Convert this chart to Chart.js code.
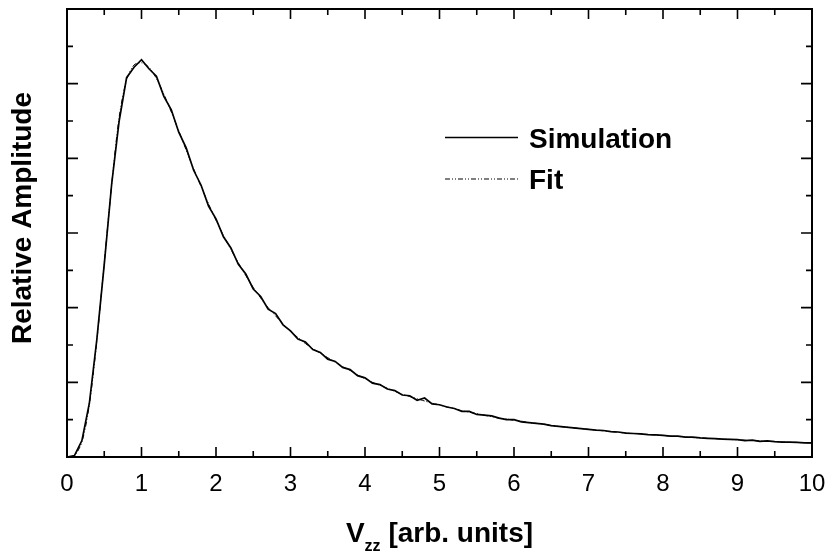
<!DOCTYPE html>
<html>
<head>
<meta charset="utf-8">
<title>Relative Amplitude vs Vzz</title>
<script src="https://cdn.jsdelivr.net/npm/chart.js@4.4.0/dist/chart.umd.min.js"></script>
<style>
  html, body { margin:0; padding:0; background:#fff; }
  #wrap { width:832px; height:556px; }
</style>
</head>
<body>
<div id="wrap"><canvas id="chart" width="832" height="556"></canvas></div>
<script>
// V_zz sample grid [arb. units]
const vzz = [
  0.0, 0.1, 0.2, 0.3, 0.4, 0.5, 0.6, 0.7, 0.8, 0.9,
  1.0, 1.1, 1.2, 1.3, 1.4, 1.5, 1.6, 1.7, 1.8, 1.9,
  2.0, 2.1, 2.2, 2.3, 2.4, 2.5, 2.6, 2.7, 2.8, 2.9,
  3.0, 3.1, 3.2, 3.3, 3.4, 3.5, 3.6, 3.7, 3.8, 3.9,
  4.0, 4.1, 4.2, 4.3, 4.4, 4.5, 4.6, 4.7, 4.8, 4.9,
  5.0, 5.1, 5.2, 5.3, 5.4, 5.5, 5.6, 5.7, 5.8, 5.9,
  6.0, 6.1, 6.2, 6.3, 6.4, 6.5, 6.6, 6.7, 6.8, 6.9,
  7.0, 7.1, 7.2, 7.3, 7.4, 7.5, 7.6, 7.7, 7.8, 7.9,
  8.0, 8.1, 8.2, 8.3, 8.4, 8.5, 8.6, 8.7, 8.8, 8.9,
  9.0, 9.1, 9.2, 9.3, 9.4, 9.5, 9.6, 9.7, 9.8, 9.9,
  10.0
];

// simulated distribution (noisy)
const simulation = [
  0, 0.02, 0.22, 0.72, 1.57, 2.58, 3.66, 4.50, 5.08, 5.22,
  5.32, 5.20, 5.10, 4.83, 4.65, 4.35, 4.14, 3.84, 3.64, 3.36,
  3.19, 2.95, 2.80, 2.58, 2.45, 2.25, 2.15, 1.98, 1.92, 1.77,
  1.69, 1.58, 1.54, 1.44, 1.40, 1.31, 1.28, 1.20, 1.17, 1.09,
  1.06, 0.99, 0.97, 0.91, 0.89, 0.83, 0.82, 0.76, 0.79, 0.71,
  0.70, 0.67, 0.65, 0.61, 0.61, 0.57, 0.56, 0.55, 0.52, 0.50,
  0.50, 0.47, 0.46, 0.45, 0.44, 0.42, 0.41, 0.40, 0.39, 0.38,
  0.37, 0.36, 0.355, 0.34, 0.335, 0.32, 0.315, 0.31, 0.30, 0.295,
  0.29, 0.28, 0.28, 0.265, 0.265, 0.255, 0.25, 0.245, 0.24, 0.235,
  0.232, 0.22, 0.225, 0.21, 0.215, 0.205, 0.20, 0.198, 0.195, 0.19,
  0.19
];

// fitted distribution
const fit = [
  0, 0.02, 0.20, 0.70, 1.55, 2.60, 3.65, 4.55, 5.05, 5.25,
  5.28, 5.22, 5.07, 4.86, 4.62, 4.37, 4.11, 3.86, 3.62, 3.39,
  3.17, 2.97, 2.78, 2.60, 2.43, 2.27, 2.13, 2.00, 1.89, 1.78,
  1.68, 1.60, 1.52, 1.45, 1.39, 1.33, 1.27, 1.21, 1.16, 1.10,
  1.05, 1.00, 0.96, 0.92, 0.88, 0.84, 0.81, 0.78, 0.75, 0.72,
  0.70, 0.67, 0.65, 0.62, 0.60, 0.58, 0.56, 0.54, 0.52, 0.51,
  0.49, 0.48, 0.46, 0.45, 0.44, 0.42, 0.41, 0.40, 0.39, 0.38,
  0.37, 0.36, 0.35, 0.34, 0.33, 0.32, 0.315, 0.31, 0.30, 0.295,
  0.29, 0.28, 0.275, 0.27, 0.26, 0.255, 0.25, 0.245, 0.24, 0.235,
  0.23, 0.225, 0.22, 0.215, 0.21, 0.205, 0.20, 0.198, 0.195, 0.19,
  0.188
];

const xMajor = [0, 1, 2, 3, 4, 5, 6, 7, 8, 9, 10];
const xMinor = [0.5, 1.5, 2.5, 3.5, 4.5, 5.5, 6.5, 7.5, 8.5, 9.5];
const yMajor = [0, 1, 2, 3, 4, 5, 6];
const yMinor = [0.5, 1.5, 2.5, 3.5, 4.5, 5.5];
const seriesNames = ['Simulation', 'Fit'];

const FONT = '"Liberation Sans", Arial, Helvetica, sans-serif';
const fitDash = [5, 2, 1, 2, 1, 2];

// frame, inward ticks on all four sides, tick labels, axis titles, legend
const framePlugin = {
  id: 'frame',
  afterDraw(chart) {
    const { ctx, chartArea: a, scales: { x, y } } = chart;
    ctx.save();
    ctx.strokeStyle = '#000';
    ctx.fillStyle = '#000';

    ctx.lineWidth = 1.6;
    const xTick = (v, len) => {
      const px = x.getPixelForValue(v);
      ctx.beginPath();
      ctx.moveTo(px, a.bottom); ctx.lineTo(px, a.bottom - len);
      ctx.moveTo(px, a.top); ctx.lineTo(px, a.top + len);
      ctx.stroke();
    };
    const yTick = (v, len) => {
      const py = y.getPixelForValue(v);
      ctx.beginPath();
      ctx.moveTo(a.left, py); ctx.lineTo(a.left + len, py);
      ctx.moveTo(a.right, py); ctx.lineTo(a.right - len, py);
      ctx.stroke();
    };
    xMajor.forEach(v => xTick(v, 10));
    xMinor.forEach(v => xTick(v, 6));
    yMajor.forEach(v => yTick(v, 11));
    yMinor.forEach(v => yTick(v, 6));

    ctx.lineWidth = 2;
    ctx.strokeRect(a.left, a.top, a.right - a.left, a.bottom - a.top);

    // x tick labels
    ctx.font = '24px ' + FONT;
    ctx.textAlign = 'center';
    ctx.textBaseline = 'alphabetic';
    xMajor.forEach(v => ctx.fillText(String(v), x.getPixelForValue(v), 491));

    // x title: V_zz [arb. units]
    const big = 'bold 28px ' + FONT, small = 'bold 16px ' + FONT;
    ctx.font = big;
    const wV = ctx.measureText('V').width;
    const wRest = ctx.measureText(' [arb. units]').width;
    ctx.font = small;
    const wSub = ctx.measureText('zz').width;
    let tx = (a.left + a.right) / 2 - (wV + wSub + wRest) / 2;
    ctx.textAlign = 'left';
    ctx.font = big;
    ctx.fillText('V', tx, 542);
    tx += wV;
    ctx.font = small;
    ctx.fillText('zz', tx, 551);
    tx += wSub;
    ctx.font = big;
    ctx.fillText(' [arb. units]', tx, 542);

    // y title
    ctx.save();
    ctx.translate(31, (a.top + a.bottom) / 2 - 15);
    ctx.rotate(-Math.PI / 2);
    ctx.textAlign = 'center';
    ctx.font = 'bold 28px ' + FONT;
    ctx.fillText('Relative Amplitude', 0, 0);
    ctx.restore();

    // legend
    const rows = [
      { name: seriesNames[0], y: 137.5, width: 1.6, dash: [] },
      { name: seriesNames[1], y: 179, width: 1, dash: fitDash }
    ];
    ctx.font = 'bold 28px ' + FONT;
    ctx.textAlign = 'left';
    rows.forEach(r => {
      ctx.lineWidth = r.width;
      ctx.setLineDash(r.dash);
      ctx.beginPath();
      ctx.moveTo(445, r.y); ctx.lineTo(518, r.y);
      ctx.stroke();
      ctx.setLineDash([]);
      ctx.fillText(r.name, 529, r.y + 10);
    });

    ctx.restore();
  }
};

new Chart(document.getElementById('chart'), {
  type: 'line',
  data: {
    datasets: [
      {
        label: seriesNames[0],
        data: vzz.map((v, i) => ({ x: v, y: simulation[i] })),
        borderColor: '#000', borderWidth: 1.7,
        pointRadius: 0, tension: 0, fill: false
      },
      {
        label: seriesNames[1],
        data: vzz.map((v, i) => ({ x: v, y: fit[i] })),
        borderColor: '#000', borderWidth: 1, borderDash: fitDash,
        pointRadius: 0, tension: 0.3, fill: false
      }
    ]
  },
  options: {
    responsive: false,
    animation: false,
    layout: { padding: { left: 67, right: 20, top: 9, bottom: 99 } },
    plugins: { legend: { display: false }, title: { display: false }, tooltip: { enabled: false } },
    scales: {
      x: { type: 'linear', min: 0, max: 10, display: false },
      y: { type: 'linear', min: 0, max: 6, display: false }
    }
  },
  plugins: [framePlugin]
});
</script>
</body>
</html>
